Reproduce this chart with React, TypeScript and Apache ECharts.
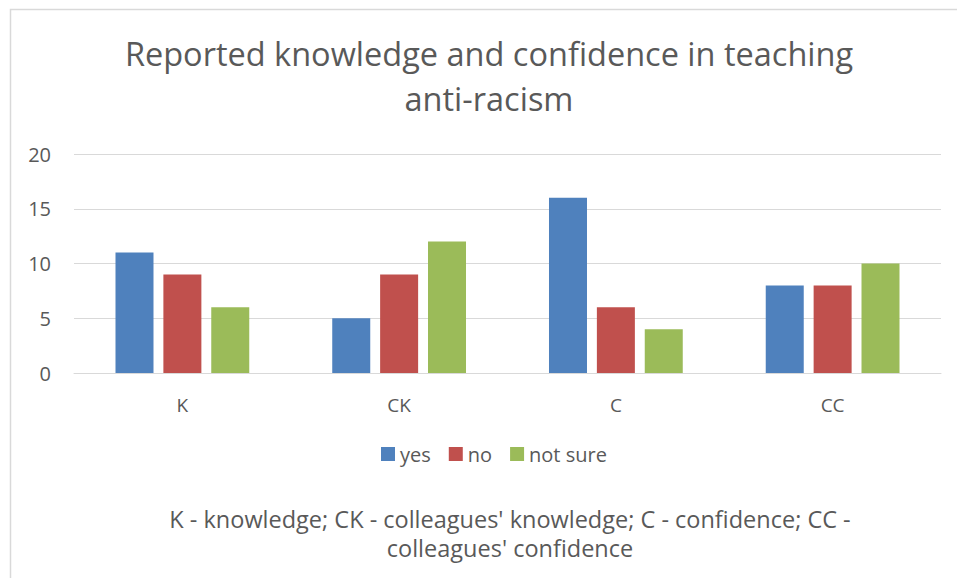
import React, { useEffect, useRef } from "react";
import * as echarts from "echarts";

const categories = ["K", "CK", "C", "CC"];
const yesValues = [11, 5, 16, 8];
const noValues = [9, 9, 6, 8];
const notSureValues = [6, 12, 4, 10];
const seriesNames = ["yes", "no", "not sure"];
const titleText = "Reported knowledge and confidence in teaching\nanti-racism";
const footnoteLines = [
  "K - knowledge; CK - colleagues' knowledge; C - confidence; CC -",
  "colleagues' confidence",
];

const FONT = "'Open Sans', 'Noto Sans', sans-serif";
const TEXT = "#595959";

export default function App() {
  const ref = useRef<HTMLDivElement>(null);
  useEffect(() => {
    if (!ref.current) return;
    const chart = echarts.init(ref.current, null, { renderer: "svg" });
    chart.setOption({
      animation: false,
      backgroundColor: "#ffffff",
      textStyle: { fontFamily: FONT },
      title: {
        text: titleText,
        left: 484,
        textAlign: "center",
        top: 26,
        textStyle: {
          fontFamily: FONT,
          fontSize: 32.5,
          fontWeight: "normal",
          color: TEXT,
          lineHeight: 45,
        },
      },
      legend: {
        data: seriesNames,
        left: 376,
        top: 439,
        itemWidth: 14,
        itemHeight: 14,
        itemGap: 18,
        icon: "rect",
        textStyle: { fontFamily: FONT, fontSize: 20, color: TEXT },
      },
      grid: { left: 74, right: 16, top: 154, bottom: 205, containLabel: false },
      xAxis: {
        type: "category",
        data: categories,
        axisLine: { lineStyle: { color: "#d9d9d9", width: 1 } },
        axisTick: { show: false },
        axisLabel: { fontFamily: FONT, fontSize: 19, color: TEXT, margin: 22 },
      },
      yAxis: {
        type: "value",
        min: 0,
        max: 20,
        interval: 5,
        axisLine: { show: false },
        axisTick: { show: false },
        axisLabel: { fontFamily: FONT, fontSize: 20, color: TEXT, margin: 23, align: "right" },
        splitLine: { lineStyle: { color: "#d9d9d9", width: 1 } },
      },
      series: [
        { name: seriesNames[0], type: "bar", data: yesValues, barWidth: 38, barGap: "26%", itemStyle: { color: "#4F81BD" } },
        { name: seriesNames[1], type: "bar", data: noValues, barWidth: 38, barGap: "26%", itemStyle: { color: "#C0504D" } },
        { name: seriesNames[2], type: "bar", data: notSureValues, barWidth: 38, barGap: "26%", itemStyle: { color: "#9BBB59" } },
      ],
      graphic: [
        {
          type: "rect",
          shape: { x: 10.5, y: 9.5, width: 960, height: 600 },
          style: { fill: "none", stroke: "#d9d9d9", lineWidth: 1.5 },
          silent: true,
        },
        {
          type: "text",
          x: 510,
          y: 519,
          style: {
            text: footnoteLines[0],
            fontFamily: FONT,
            fontSize: 23.5,
            fill: TEXT,
            align: "center",
            verticalAlign: "middle",
          },
        },
        {
          type: "text",
          x: 510,
          y: 548,
          style: {
            text: footnoteLines[1],
            fontFamily: FONT,
            fontSize: 23.5,
            fill: TEXT,
            align: "center",
            verticalAlign: "middle",
          },
        },
      ],
    });
    return () => chart.dispose();
  }, []);
  return (
    <div
      ref={ref}
      style={{ position: "fixed", left: 0, top: 0, width: 957, height: 578 }}
    />
  );
}
